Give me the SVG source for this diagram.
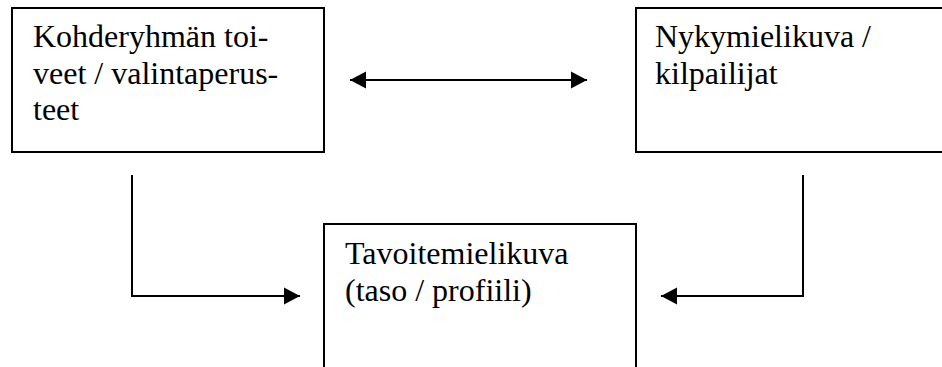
<svg xmlns="http://www.w3.org/2000/svg" width="942" height="367" viewBox="0 0 942 367">
  <style>
    .box { fill: none; stroke: #000; stroke-width: 2; }
    .label { font-family: "Liberation Serif", "Times New Roman", serif; font-size: 32px; fill: #000; }
    .conn { fill: none; stroke: #000; stroke-width: 2; }
  </style>
  <defs>
    <marker id="arrow" markerUnits="userSpaceOnUse" markerWidth="17" markerHeight="18" refX="16" refY="9" orient="auto-start-reverse">
      <path d="M0,0.5 L16,9 L0,17.5 z" fill="#000"/>
    </marker>
  </defs>
  <rect width="942" height="367" fill="#fff"/>

  <g id="kohderyhma">
    <rect class="box" x="12" y="8" width="312" height="144"/>
    <text class="label" x="33" y="47">Kohderyhmän toi-</text>
    <text class="label" x="33" y="84">veet / valintaperus-</text>
    <text class="label" x="33" y="120">teet</text>
  </g>

  <g id="nykymielikuva">
    <path class="box" d="M950,8 H636 V152 H950"/>
    <text class="label" x="655" y="47">Nykymielikuva /</text>
    <text class="label" x="655" y="84">kilpailijat</text>
  </g>

  <g id="tavoitemielikuva">
    <path class="box" d="M324,375 V224 H636 V375"/>
    <text class="label" x="345" y="264">Tavoitemielikuva</text>
    <text class="label" x="345" y="301">(taso / profiili)</text>
  </g>

  <g id="connectors">
    <line class="conn" x1="350" y1="80" x2="587" y2="80" marker-start="url(#arrow)" marker-end="url(#arrow)"/>
    <polyline class="conn" points="132,175 132,296 300,296" marker-end="url(#arrow)"/>
    <polyline class="conn" points="803,175 803,296 661,296" marker-end="url(#arrow)"/>
  </g>
</svg>
